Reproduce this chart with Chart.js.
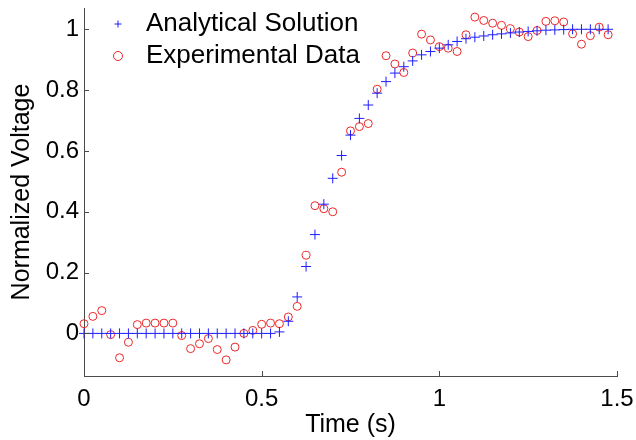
<!DOCTYPE html>
<html>
<head>
<meta charset="utf-8">
<script src="https://cdn.jsdelivr.net/npm/chart.js@4/dist/chart.umd.min.js"></script>
<style>
  html, body { margin: 0; padding: 0; background: #fff; }
  #wrap { width: 636px; height: 440px; }
</style>
</head>
<body>
<div id="wrap"><canvas id="chart"></canvas></div>
<script>
    /* =========================
       DATA
    ========================= */
    const timeStep = 0.025;

    const analytical = [
        0, 0, 0, 0, 0, 0, 0, 0, 0, 0,
        0, 0, 0, 0, 0, 0, 0, 0, 0, 0,
        0, 0, 0.005, 0.04, 0.12, 0.22, 0.325, 0.425, 0.51, 0.585,
        0.652, 0.707, 0.751, 0.79, 0.828, 0.856, 0.877, 0.896, 0.916, 0.927,
        0.938, 0.949, 0.96, 0.969, 0.974, 0.978, 0.982, 0.985, 0.988, 0.991,
        0.993, 0.995, 0.997, 0.998, 0.999, 1, 1, 1, 1, 1
    ];

    const experimental = [
        0.032, 0.056, 0.075, -0.004, -0.08, -0.029, 0.029, 0.034, 0.034, 0.034,
        0.034, -0.007, -0.05, -0.034, -0.017, -0.053, -0.087, -0.045, 0, 0.01,
        0.03, 0.034, 0.032, 0.054, 0.089, 0.257, 0.42, 0.41, 0.4, 0.53,
        0.666, 0.68, 0.69, 0.803, 0.913, 0.886, 0.858, 0.922, 0.984, 0.965,
        0.943, 0.938, 0.927, 0.982, 1.04, 1.029, 1.02, 1.013, 1.002, 0.991,
        0.976, 0.996, 1.026, 1.028, 1.024, 0.985, 0.951, 0.979, 1.007, 0.982
    ];

    const xTicks = [0, 0.5, 1, 1.5];
    const yTicks = [0, 0.2, 0.4, 0.6, 0.8, 1];
    const seriesNames = ["Analytical Solution", "Experimental Data"];

    const toPoints = arr => arr.map((v, i) => ({ x: +(i * timeStep).toFixed(3), y: v }));

    /* =========================
       PLUGINS
    ========================= */
    const FONT = "'Liberation Sans', Arial, sans-serif";
    const AXIS_COLOR = "#4a4a4a";

    // MATLAB style inward ticks
    const inwardTicks = {
        id: "inwardTicks",
        afterDraw(chart) {
            const { ctx, chartArea, scales } = chart;
            ctx.save();
            ctx.strokeStyle = AXIS_COLOR;
            ctx.lineWidth = 1;
            ctx.beginPath();
            scales.x.ticks.forEach(t => {
                const px = Math.round(scales.x.getPixelForValue(t.value)) + 0.5;
                ctx.moveTo(px, chartArea.bottom);
                ctx.lineTo(px, chartArea.bottom - 5);
            });
            scales.y.ticks.forEach(t => {
                const py = Math.round(scales.y.getPixelForValue(t.value)) + 0.5;
                ctx.moveTo(chartArea.left, py);
                ctx.lineTo(chartArea.left + 5, py);
            });
            ctx.stroke();
            ctx.restore();
        }
    };

    // legend without a box, top left inside the axes
    const innerLegend = {
        id: "innerLegend",
        afterDraw(chart) {
            const { ctx } = chart;
            const rows = [
                { y: 24, r: 3.5 },
                { y: 56, r: 4.5 }
            ];
            ctx.save();
            chart.data.datasets.forEach((ds, i) => {
                ctx.strokeStyle = ds.borderColor;
                ctx.fillStyle = "rgba(0,0,0,0)";
                Chart.helpers.drawPoint(ctx, {
                    pointStyle: ds.pointStyle, radius: rows[i].r, rotation: 0, borderWidth: 1
                }, 118, rows[i].y);
                ctx.fillStyle = "#000";
                ctx.font = "26px " + FONT;
                ctx.textBaseline = "middle";
                ctx.textAlign = "left";
                ctx.fillText(ds.label, 146, rows[i].y);
            });
            ctx.restore();
        }
    };

    /* =========================
       CHART
    ========================= */
    new Chart(document.getElementById("chart"), {
        type: "scatter",
        data: {
            datasets: [{
                label: seriesNames[0],
                data: toPoints(analytical),
                pointStyle: "cross",
                pointRadius: 5,
                pointBorderWidth: 1,
                borderColor: "rgb(30,30,255)",
                backgroundColor: "rgb(30,30,255)",
                showLine: false,
                clip: false
            }, {
                label: seriesNames[1],
                data: toPoints(experimental),
                pointStyle: "circle",
                pointRadius: 4,
                pointBorderWidth: 1,
                borderColor: "rgb(235,40,40)",
                backgroundColor: "rgba(0,0,0,0)",
                showLine: false,
                clip: false
            }]
        },
        options: {
            responsive: true,
            maintainAspectRatio: false,
            animation: false,
            layout: { padding: { top: 8, right: 19, left: 0, bottom: 0 } },
            plugins: {
                legend: { display: false },
                tooltip: { enabled: false }
            },
            scales: {
                x: {
                    type: "linear",
                    min: 0,
                    max: 1.5,
                    afterBuildTicks: s => { s.ticks = xTicks.map(v => ({ value: v })); },
                    afterFit: s => { s.height = 64; s.paddingLeft = 0; s.paddingRight = 0; },
                    grid: { drawOnChartArea: false, drawTicks: false },
                    border: { color: AXIS_COLOR, width: 1 },
                    ticks: {
                        color: "#000",
                        padding: 9,
                        maxRotation: 0,
                        font: { family: FONT, size: 24 },
                        callback: v => String(v)
                    },
                    title: {
                        display: true,
                        text: "Time (s)",
                        color: "#000",
                        font: { family: FONT, size: 25 },
                        padding: { top: 0, bottom: 0 }
                    }
                },
                y: {
                    type: "linear",
                    min: -0.14,
                    max: 1.07,
                    afterBuildTicks: s => { s.ticks = yTicks.map(v => ({ value: v })); },
                    afterFit: s => { s.width = 84; s.paddingTop = 0; s.paddingBottom = 0; },
                    grid: { drawOnChartArea: false, drawTicks: false },
                    border: { color: AXIS_COLOR, width: 1 },
                    ticks: {
                        color: "#000",
                        padding: 5,
                        font: { family: FONT, size: 24 },
                        callback: v => String(v)
                    },
                    title: {
                        display: true,
                        text: "Normalized Voltage",
                        color: "#000",
                        font: { family: FONT, size: 25 },
                        padding: { top: 7, bottom: 0 }
                    }
                }
            }
        },
        plugins: [inwardTicks, innerLegend]
    });
</script>
</body>
</html>
